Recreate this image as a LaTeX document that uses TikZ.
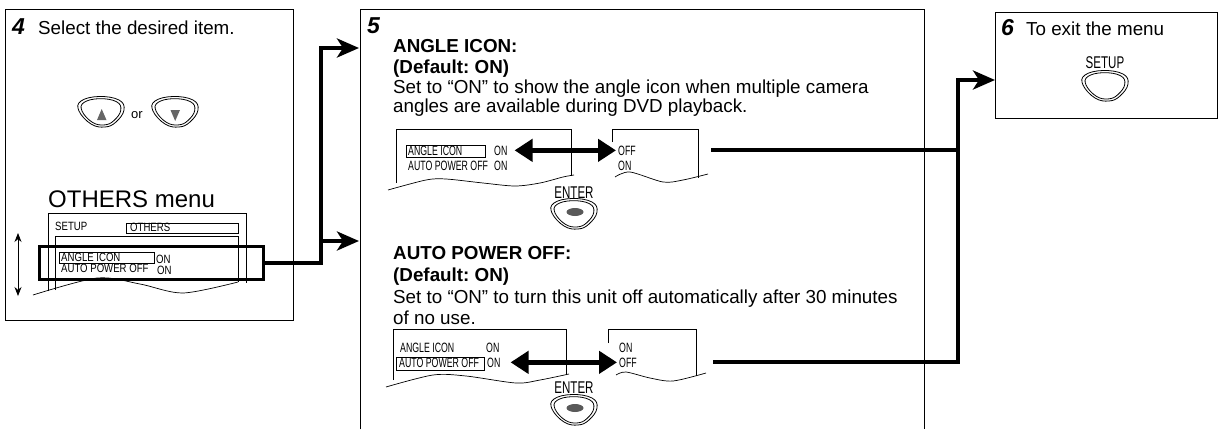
\documentclass[tikz,border=0pt]{standalone}
\usepackage{fontspec}
\setmainfont{Liberation Sans}
\newfontfamily\nfA[FakeStretch=0.8]{Liberation Sans}
\newfontfamily\nfB[FakeStretch=0.65]{Liberation Sans}
\newfontfamily\nfC[FakeStretch=0.68]{Liberation Sans}
\usetikzlibrary{arrows.meta,calc}
\tikzset{
  pics/btn/.style={code={
    \draw[line width=0.8pt] plot[smooth cycle, tension=0.7] coordinates {(-20,-11) (-2,-15.5) (18,-12) (23,-2) (15,10) (4,15) (-10,12) (-22,-1)};
    \draw[line width=0.8pt, scale=0.86] plot[smooth cycle, tension=0.7] coordinates {(-20,-11) (-2,-15.5) (18,-12) (23,-2) (15,10) (4,15) (-10,12) (-22,-1)};
  }}
}
\frenchspacing
\begin{document}
\begin{tikzpicture}[x=1pt,y=-1pt,
  panel/.style={draw, line width=1.1pt, inner sep=0pt, anchor=north west},
  thin/.style={line width=0.7pt},
  conn/.style={line width=4.5pt, line join=miter},
  tip/.style={-{Stealth[length=22pt,width=19pt,inset=6pt]}},
  dbl/.style={line width=5pt, {Triangle[length=18pt,width=22pt]}-{Triangle[length=18pt,width=22pt]}},
  body/.style={anchor=base west, inner sep=0pt, font=\fontsize{18.8}{22}\selectfont},
  head/.style={anchor=base west, inner sep=0pt, font=\fontsize{18.8}{22}\selectfont\bfseries},
  num/.style={anchor=base west, inner sep=0pt, font=\fontsize{23}{24}\selectfont\bfseries\itshape},
  mA/.style={anchor=base west, inner sep=0pt, font=\nfA\fontsize{12}{13}\selectfont},
  mB/.style={anchor=base west, inner sep=0pt, font=\nfB\fontsize{13.5}{14}\selectfont},
  lbl/.style={anchor=base, inner sep=0pt, font=\nfC\fontsize{17}{18}\selectfont},
]
\useasboundingbox (0,0) rectangle (1229,429);

% ---------- panel 4 ----------
\node[panel, minimum width=288pt, minimum height=311pt] (p4) at (5,9) {};
\node[num] (n4) at (12,34) {4};
\node[body] (t4) at (38,34) {Select the desired item.};
\pic (bup) at (101,112) {btn};
\fill[black!60] (97,120) -- (106.5,120) -- (101.7,109) -- cycle;
\node[anchor=base west, inner sep=0pt, font=\fontsize{13}{14}\selectfont] (or) at (131,118) {or};
\pic (bdn) at (175,112) {btn};
\fill[black!60] (170.5,110) -- (180,110) -- (175.2,121) -- cycle;
\node[anchor=base west, inner sep=0pt, font=\fontsize{24}{26}\selectfont] (om) at (48,207) {OTHERS menu};

\draw[thin] (48,291) -- (48,213) -- (246,213) -- (246,283);
\draw[thin] (55,290) -- (55,236) -- (238,236) -- (238,282);
\node[mA] (su) at (55,230) {SETUP};
\draw[thin] (126,223) rectangle (238,233);
\node[mA] (ot) at (130,231.5) {OTHERS};
\draw[thin] (59,252) rectangle (154,263);
\node[mA] (ai) at (61,261) {ANGLE ICON};
\node[mA] (aion) at (156,263) {ON};
\node[mA] (ap) at (61,272) {AUTO POWER OFF};
\node[mA] (apon) at (157,274) {ON};
\draw[thin] plot[smooth, tension=0.5] coordinates {(33,295) (97,278) (140,284) (183,293) (238,282)};
\node[draw, line width=3pt, minimum width=224pt, minimum height=33pt, inner sep=0pt, anchor=north west] (hl) at (38,245) {};
\draw[line width=0.8pt, {Stealth[length=9pt,width=7pt]}-{Stealth[length=9pt,width=7pt]}] (18,233) -- (18,296);

% ---------- panel 5 ----------
\node[inner sep=0pt, minimum width=564pt, minimum height=420pt, anchor=north west] (p5) at (360,9) {};
\draw[line width=1pt] (p5.south west) -- (p5.north west) -- (p5.north east) -- (p5.south east);
\node[num] (n5) at (367,33) {5};
\node[head] (h1) at (393,52) {ANGLE ICON:};
\node[head] (d1) at (393,73) {(Default: ON)};
\node[body] (s1) at (393,93) {Set to “ON” to show the angle icon when multiple camera};
\node[body] (s2) at (393,112) {angles are available during DVD playback.};

% screen 1
\draw[thin] (396,183) -- (396,129) -- (571,129) -- (571,176);
\draw[thin] plot[smooth, tension=0.5] coordinates {(388,190) (426,180) (446,179) (483,183) (515,186) (540,183) (563,177) (574,175)};
\draw[thin] (406,145) rectangle (485,157);
\node[mB] (sa1) at (408,155) {ANGLE ICON};
\node[mB] (on1) at (494,155) {ON};
\node[mB] (sb1) at (408,170) {AUTO POWER OFF};
\node[mB] (on1b) at (494,170) {ON};
% screen 2
\draw[thin] (612,142) -- (612,129) -- (698,129) -- (698,178);
\draw[thin] plot[smooth, tension=0.5] coordinates {(615,177) (630,172) (663,182) (683,180) (708,174)};
\node[mB] (off2) at (618,155) {OFF};
\node[mB] (on2) at (618,170) {ON};
\draw[dbl] ([xshift=7pt]on1.east) -- ([xshift=-2pt]off2.west);
\node[lbl] (en1) at (574,198) {ENTER};
\pic (be1) at (574,214) {btn};
\fill[black!65] (575,212) ellipse [x radius=8.5, y radius=4];

\node[head] (h2) at (393,259) {AUTO POWER OFF:};
\node[head] (d2) at (393,281) {(Default: ON)};
\node[body] (s3) at (393,303) {Set to “ON” to turn this unit off automatically after 30 minutes};
\node[body] (s4) at (393,324) {of no use.};

% screen 3
\draw[thin] (393,380) -- (393,329) -- (566,329) -- (566,375);
\draw[thin] plot[smooth, tension=0.5] coordinates {(386,387) (433,375) (466,376) (516,383) (540,380) (569,374)};
\node[mB] (sa3) at (400,352) {ANGLE ICON};
\node[mB] (on3a) at (486,352) {ON};
\draw[thin] (396,357) rectangle (484,370);
\node[mB] (sb3) at (399,367) {AUTO POWER OFF};
\node[mB] (on3) at (487,367) {ON};
% screen 4
\draw[thin] (608,343) -- (608,329) -- (696,329) -- (696,376);
\draw[thin] plot[smooth, tension=0.5] coordinates {(616,375) (626,372) (650,378) (673,381) (706,373)};
\node[mB] (on4) at (619,352) {ON};
\node[mB] (off4) at (619,367) {OFF};
\draw[dbl] ([xshift=10pt]on3.east) -- ([xshift=-2pt]off4.west);
\node[lbl] (en2) at (574,393) {ENTER};
\pic (be2) at (574,410) {btn};
\fill[black!65] (575,408) ellipse [x radius=8.5, y radius=4];

% ---------- panel 6 ----------
\node[panel, minimum width=222pt, minimum height=106pt] (p6) at (995,12) {};
\node[num] (n6) at (1001,35) {6};
\node[body] (t6) at (1026,35) {To exit the menu};
\node[lbl] (su6) at (1105,68) {SETUP};
\pic (bs) at (1105,86) {btn};

% ---------- connectors ----------
\coordinate (jL) at (321,48);
\coordinate (p5a) at (359,48);
\coordinate (p5b) at (359,241);
\draw[conn, tip] (hl.east) -| (jL) -- (p5a);
\draw[conn, tip] (jL |- p5b) -- (p5b);

\coordinate (outA) at (711,150);
\coordinate (outB) at (713,362);
\coordinate (jR) at (958,80);
\coordinate (p6in) at (p6.west |- jR);
\draw[conn] (outA) -- (outA -| jR);
\draw[conn, tip] (outB) -| (jR) -- (p6in);
\end{tikzpicture}
\end{document}
